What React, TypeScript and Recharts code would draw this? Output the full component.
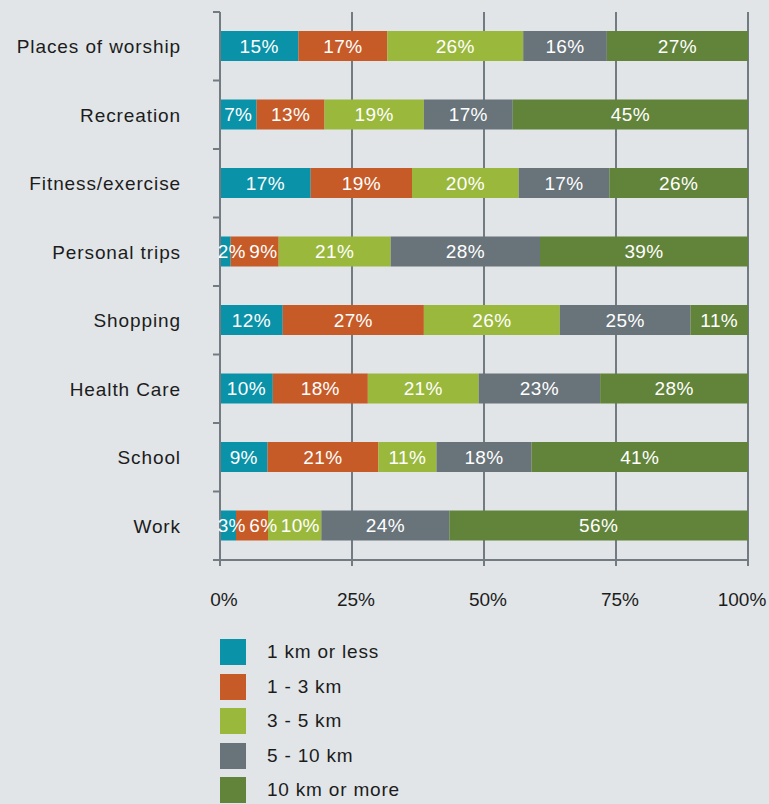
import { BarChart, Bar, XAxis, YAxis, CartesianGrid, LabelList, Legend } from 'recharts';

const categories = ['Places of worship', 'Recreation', 'Fitness/exercise', 'Personal trips', 'Shopping', 'Health Care', 'School', 'Work'];
const upTo1 = [15, 7, 17, 2, 12, 10, 9, 3];
const from1to3 = [17, 13, 19, 9, 27, 18, 21, 6];
const from3to5 = [26, 19, 20, 21, 26, 21, 11, 10];
const from5to10 = [16, 17, 17, 28, 25, 23, 18, 24];
const over10 = [27, 45, 26, 39, 11, 28, 41, 56];
const xTicks = [0, 0.25, 0.5, 0.75, 1];

const series = [
  { key: 'upTo1', name: '1 km or less', color: '#0a92a8', values: upTo1 },
  { key: 'from1to3', name: '1 - 3 km', color: '#c65b28', values: from1to3 },
  { key: 'from3to5', name: '3 - 5 km', color: '#9ab93c', values: from3to5 },
  { key: 'from5to10', name: '5 - 10 km', color: '#68737a', values: from5to10 },
  { key: 'over10', name: '10 km or more', color: '#62843a', values: over10 },
];

const data = categories.map((name, i) => ({
  name,
  upTo1: upTo1[i],
  from1to3: from1to3[i],
  from3to5: from3to5[i],
  from5to10: from5to10[i],
  over10: over10[i],
}));

const FONT = '"Liberation Sans", Arial, sans-serif';
const AXIS = '#737b82';

// rough width of a "12%" style label at 19px
const labelWidth = (v: number) => String(v).length * 10.6 + 17;

const CategoryTick = (props: any) => {
  const { x, y, payload, index } = props;
  const half = payload?.offset ?? 34.25;
  return (
    <g>
      <line x1={x + 32} x2={x + 39} y1={y - half} y2={y - half} stroke={AXIS} strokeWidth={2} />
      {index === categories.length - 1 && (
        <line x1={x + 32} x2={x + 39} y1={y + half} y2={y + half} stroke={AXIS} strokeWidth={2} />
      )}
      <text x={x} y={y} dy="0.36em" textAnchor="end" fill="#1c1c1c" fontSize={19} fontFamily={FONT} letterSpacing={0.9}>
        {payload.value}
      </text>
    </g>
  );
};

const PercentTick = (props: any) => {
  const { x, y, payload, index } = props;
  const dx = index === xTicks.length - 1 ? -6 : 4;
  return (
    <text x={x + dx} y={y} dy="0.71em" textAnchor="middle" fill="#1c1c1c" fontSize={19} fontFamily={FONT}>
      {`${Math.round(payload.value * 100)}%`}
    </text>
  );
};

// labels are centred in their segment but pushed right when a narrow segment can't hold them
const SegmentLabel = (props: any) => {
  const { x, y, width, height, value, index, seriesIndex } = props;
  const row = series.map((s) => s.values[index]);
  const sum = row.reduce((a, b) => a + b, 0);
  const pxPerUnit = width / (value / sum);
  let start = x - pxPerUnit * (row.slice(0, seriesIndex).reduce((a, b) => a + b, 0) / sum);
  let prevEnd = -Infinity;
  let cx = 0;
  for (let k = 0; k <= seriesIndex; k++) {
    const w = pxPerUnit * (row[k] / sum);
    const tw = labelWidth(row[k]);
    cx = Math.max(start + w / 2, start + tw / 2 - 2, prevEnd + 4 + tw / 2);
    prevEnd = cx + tw / 2;
    start += w;
  }
  return (
    <text x={cx} y={y + height / 2} dy="0.36em" textAnchor="middle" fill="#ffffff" fontSize={19} fontFamily={FONT} letterSpacing={0.4}>
      {`${value}%`}
    </text>
  );
};

const LegendBox = () => (
  <div style={{ height: 170, paddingLeft: 220, paddingTop: 5, boxSizing: 'border-box', fontFamily: FONT }}>
    {series.map((s) => (
      <div key={s.key} style={{ display: 'flex', alignItems: 'center', height: 34.5 }}>
        <div style={{ width: 26, height: 26, background: s.color, marginRight: 21, marginTop: -8 }} />
        <span style={{ fontSize: 19, color: '#1c1c1c', letterSpacing: 0.8, marginTop: -8 }}>{s.name}</span>
      </div>
    ))}
  </div>
);

export default function App() {
  return (
    <div style={{ position: 'absolute', left: 0, top: 0, width: 769, height: 804, background: '#e1e5e8' }}>
      <BarChart
        layout="vertical"
        width={769}
        height={804}
        data={data}
        stackOffset="expand"
        margin={{ top: 12, right: 21, left: 0, bottom: 0 }}
      >
        <CartesianGrid horizontal={false} stroke={AXIS} strokeWidth={2} />
        <XAxis
          type="number"
          domain={[0, 1]}
          ticks={xTicks}
          height={74}
          axisLine={{ stroke: AXIS, strokeWidth: 2 }}
          tickLine={{ stroke: AXIS, strokeWidth: 2 }}
          tickSize={6}
          tickMargin={27}
          tick={<PercentTick />}
          interval={0}
        />
        <YAxis
          type="category"
          dataKey="name"
          width={220}
          axisLine={{ stroke: AXIS, strokeWidth: 2 }}
          tickLine={false}
          tickSize={0}
          tickMargin={39}
          tick={<CategoryTick />}
          interval={0}
        />
        <Legend verticalAlign="bottom" align="left" layout="horizontal" content={<LegendBox />} />
        {series.map((s, si) => (
          <Bar key={s.key} dataKey={s.key} name={s.name} stackId="a" fill={s.color} barSize={30} isAnimationActive={false}>
            <LabelList dataKey={s.key} content={<SegmentLabel seriesIndex={si} />} />
          </Bar>
        ))}
      </BarChart>
    </div>
  );
}
